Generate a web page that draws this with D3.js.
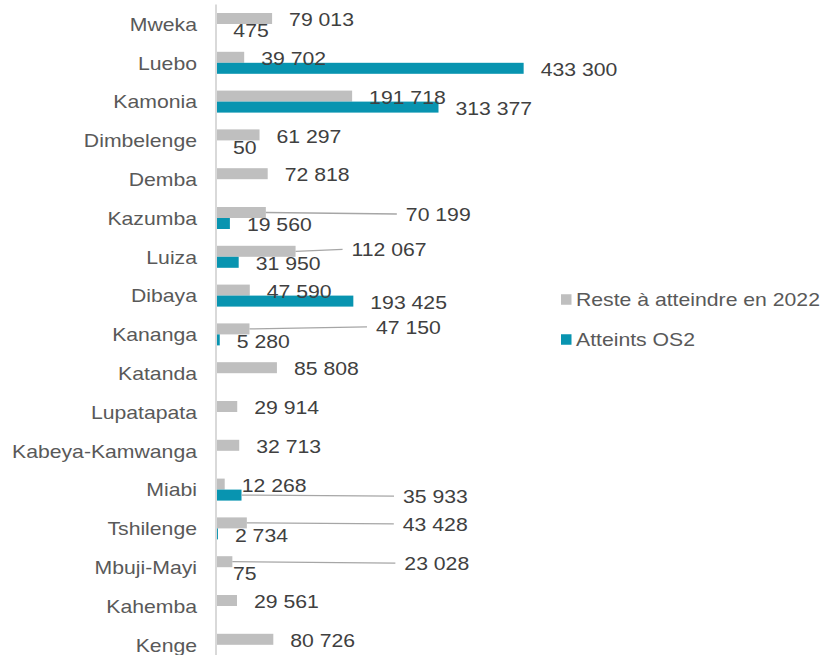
<!DOCTYPE html>
<html>
<head>
<meta charset="utf-8">
<script src="https://cdn.jsdelivr.net/npm/d3@7"></script>
<style>
  body { margin: 0; background: #fff; }
  text { font-family: "Liberation Sans", Arial, sans-serif; }
</style>
</head>
<body>
<div id="viz"></div>
<script>
var categories = ["Mweka", "Luebo", "Kamonia", "Dimbelenge", "Demba", "Kazumba", "Luiza", "Dibaya",
  "Kananga", "Katanda", "Lupatapata", "Kabeya-Kamwanga", "Miabi", "Tshilenge", "Mbuji-Mayi", "Kahemba", "Kenge"];
var resteValues = [79013, 39702, 191718, 61297, 72818, 70199, 112067, 47590,
  47150, 85808, 29914, 32713, 12268, 43428, 23028, 29561, 80726];
var atteintsValues = [475, 433300, 313377, 50, null, 19560, 31950, 193425,
  5280, null, null, null, 35933, 2734, 75, null, null];
var seriesNames = ["Reste à atteindre en 2022", "Atteints OS2"];
var seriesColors = ["#BFBFBF", "#0894B0"];

// labels that were dragged away from the bar (pixel nudges, with leader line)
var labelNudges = [
  { cat: "Kazumba", s: 0, dx: 123, dy: 0.5 },
  { cat: "Luiza", s: 0, dx: 39, dy: -3 },
  { cat: "Kananga", s: 0, dx: 109.5, dy: -3 },
  { cat: "Miabi", s: 1, dx: 144.5, dy: 0 },
  { cat: "Tshilenge", s: 0, dx: 139, dy: 0 },
  { cat: "Mbuji-Mayi", s: 0, dx: 155, dy: 0.5 }
];

var width = 822;
var height = 655;
var fontSize = 18.6;
var stretch = "scale(1.14,1)";

var locale = d3.formatLocale({ decimal: ",", thousands: " ", grouping: [3], currency: ["", ""] });
var fmt = locale.format(",d");

var svg = d3.select("#viz")
  .append("svg")
  .attr("width", width)
  .attr("height", height);

var x_scale = d3.scaleLinear()
  .domain([0, 500000])
  .range([216, 571]);

var y_scale = d3.scaleBand()
  .domain(categories)
  .range([4.6, 664.2])
  .paddingInner(0.433)
  .paddingOuter(0.2165);

var sub_scale = d3.scaleBand()
  .domain([0, 1])
  .range([0, y_scale.bandwidth()]);

var rows = categories.map(function(c, i) {
  return { cat: c, values: [resteValues[i], atteintsValues[i]] };
});

var items = [];
rows.forEach(function(r) {
  r.values.forEach(function(v, s) {
    if (v !== null) items.push({ cat: r.cat, s: s, value: v });
  });
});

// bars
svg.selectAll(".bar")
  .data(items)
  .enter()
  .append("rect")
  .attr("class", "bar")
  .attr("x", x_scale(0))
  .attr("y", function(d) { return y_scale(d.cat) + sub_scale(d.s); })
  .attr("width", function(d) { return x_scale(d.value) - x_scale(0); })
  .attr("height", sub_scale.bandwidth())
  .attr("fill", function(d) { return seriesColors[d.s]; });

// vertical axis line
svg.append("line")
  .attr("x1", x_scale(0)).attr("x2", x_scale(0))
  .attr("y1", y_scale.range()[0]).attr("y2", y_scale.range()[1])
  .attr("stroke", "#D9D9D9")
  .attr("stroke-width", 2);

// category labels
svg.selectAll(".cat")
  .data(categories)
  .enter()
  .append("text")
  .attr("class", "cat")
  .attr("transform", function(d) {
    return "translate(197," + (y_scale(d) + y_scale.bandwidth() / 2 + 6.7) + ")" + stretch;
  })
  .attr("text-anchor", "end")
  .attr("font-size", fontSize)
  .attr("fill", "#595959")
  .text(function(d) { return d; });

// value labels
items.forEach(function(d) {
  var bx = x_scale(d.value);
  var by = y_scale(d.cat) + sub_scale(d.s) + sub_scale.bandwidth() / 2;
  var tx = bx + 17;
  var ty = by + 1;
  var nudge = labelNudges.find(function(n) { return n.cat == d.cat && n.s == d.s; });
  if (nudge) {
    tx += nudge.dx;
    ty += nudge.dy;
    svg.append("line")
      .attr("x1", bx).attr("y1", by)
      .attr("x2", tx - 9).attr("y2", ty)
      .attr("stroke", "#A6A6A6")
      .attr("stroke-width", 1.3);
  }
  d.tx = tx;
  d.ty = ty;
});

svg.selectAll(".val")
  .data(items)
  .enter()
  .append("text")
  .attr("class", "val")
  .attr("transform", function(d) { return "translate(" + d.tx + "," + (d.ty + 6.7) + ")" + stretch; })
  .attr("font-size", fontSize)
  .attr("fill", "#404040")
  .text(function(d) { return fmt(d.value); });

// legend
var legend = svg.selectAll(".legend")
  .data(seriesNames)
  .enter()
  .append("g")
  .attr("class", "legend")
  .attr("transform", function(d, i) { return "translate(561," + (299.5 + i * 40) + ")"; });

legend.append("rect")
  .attr("x", 0)
  .attr("y", -5.25)
  .attr("width", 10.5)
  .attr("height", 10.5)
  .attr("fill", function(d, i) { return seriesColors[i]; });

legend.append("text")
  .attr("transform", "translate(15,6.7)" + stretch)
  .attr("font-size", fontSize)
  .attr("fill", "#595959")
  .text(function(d) { return d; });
</script>
</body>
</html>
